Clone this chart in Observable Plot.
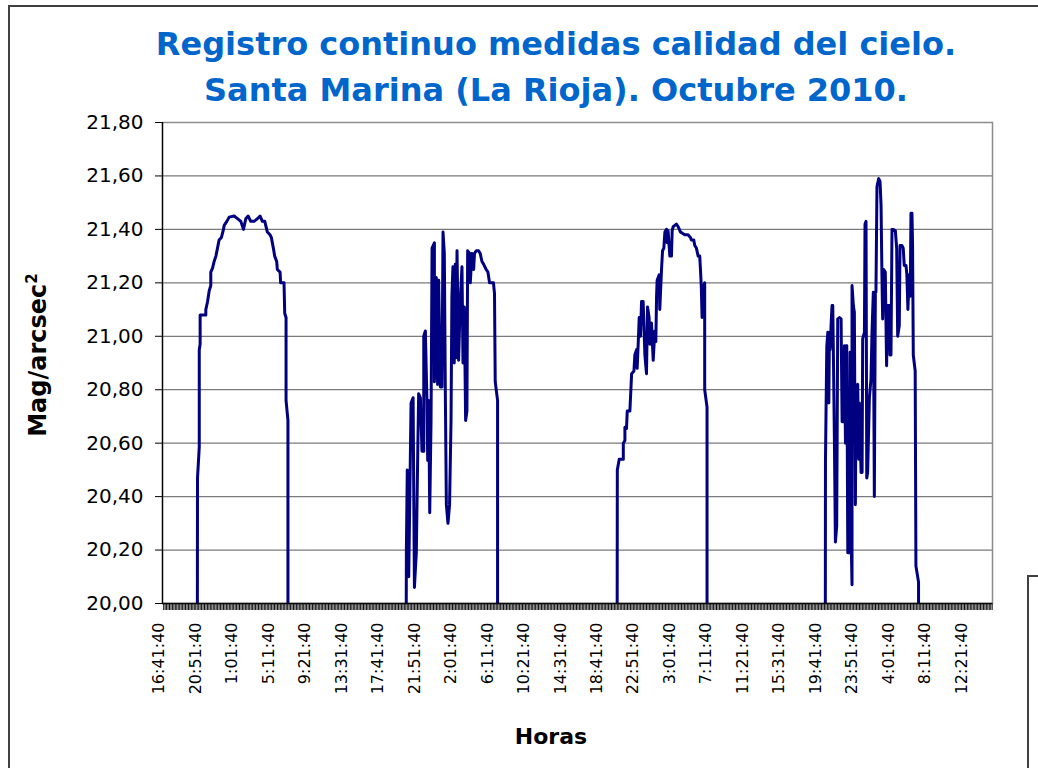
<!DOCTYPE html>
<html>
<head>
<meta charset="utf-8">
<script src="https://cdn.jsdelivr.net/npm/d3@7"></script>
<script src="https://cdn.jsdelivr.net/npm/@observablehq/plot@0.6"></script>
<style>
  html, body { margin: 0; padding: 0; background: #fff; }
  #page { position: relative; width: 1038px; height: 768px; overflow: hidden; background: #fff; font-family: "DejaVu Sans", sans-serif; }
  #chart { position: absolute; left: 0; top: 0; }
  .title { position: absolute; left: 0; top: 21px; width: 1112px; text-align: center; color: #0066CC; font-weight: bold; font-size: 32px; line-height: 46px; white-space: nowrap; }
  .ytitle { position: absolute; left: 37px; top: 355px; transform: translate(-50%, -50%) rotate(-90deg); font-weight: bold; font-size: 24px; white-space: nowrap; color: #000; }
  .ytitle sup { font-size: 15px; }
  .xtitle { position: absolute; left: 551px; top: 724px; transform: translateX(-50%); font-weight: bold; font-size: 22px; white-space: nowrap; color: #000; }
  .bline { position: absolute; background: #404040; }
</style>
</head>
<body>
<div id="page">
  <div id="chart"></div>
  <div class="bline" style="left:8px; top:5px; width:1.5px; height:763px;"></div>
  <div class="bline" style="left:8px; top:5px; width:1030px; height:1.5px;"></div>
  <div class="bline" style="left:1027px; top:575px; width:1.5px; height:193px;"></div>
  <div class="bline" style="left:1027px; top:575px; width:11px; height:1.5px;"></div>
  <div class="title">Registro continuo medidas calidad del cielo.<br>Santa Marina (La Rioja). Octubre 2010.</div>
  <div class="ytitle">Mag/arcsec<sup>2</sup></div>
  <div class="xtitle">Horas</div>
</div>
<script>
// Minutes elapsed since the first labelled record (16:41:40), value in mag/arcsec²
const night1 = [[261,20.0],[262,20.47],[274,20.585],[274,20.95],[280,20.97],[280,21.08],[319,21.08],[319,21.10],[331,21.13],[342,21.17],[353,21.19],[353,21.24],[365,21.255],[376,21.28],[388,21.30],[399,21.33],[410,21.36],[426,21.37],[440,21.40],[445,21.415],[463,21.43],[479,21.446],[513,21.45],[536,21.44],[559,21.43],[577,21.40],[593,21.44],[609,21.45],[627,21.43],[650,21.43],[673,21.44],[691,21.45],[707,21.43],[723,21.43],[741,21.39],[759,21.38],[768,21.37],[782,21.33],[791,21.30],[805,21.28],[809,21.25],[828,21.24],[832,21.20],[855,21.20],[860,21.085],[869,21.07],[869,20.76],[882,20.685],[882,20.0]];
const night2 = [[1693,20.0],[1694,20.20],[1700,20.50],[1710,20.10],[1726,20.75],[1740,20.77],[1749,20.06],[1762,20.19],[1772,20.57],[1778,20.785],[1790,20.77],[1801,20.57],[1813,20.57],[1813,21.00],[1824,21.02],[1835,20.76],[1840,20.535],[1847,20.76],[1854,20.34],[1863,20.685],[1870,21.33],[1886,21.35],[1886,20.83],[1899,21.22],[1908,20.82],[1915,21.21],[1927,20.81],[1938,20.81],[1945,21.39],[1954,21.31],[1961,20.785],[1968,20.37],[1979,20.30],[1990,20.37],[2000,20.685],[2006,21.15],[2013,21.26],[2022,20.90],[2029,21.27],[2036,20.92],[2041,21.32],[2052,20.91],[2063,21.13],[2075,21.26],[2082,20.90],[2091,21.11],[2100,20.685],[2109,20.72],[2114,21.32],[2127,21.31],[2132,21.20],[2143,21.31],[2155,21.25],[2161,21.31],[2173,21.32],[2189,21.32],[2200,21.31],[2212,21.28],[2223,21.27],[2241,21.25],[2253,21.24],[2264,21.20],[2280,21.20],[2291,21.20],[2298,21.16],[2303,20.83],[2319,20.76],[2319,20.0]];
const night3 = [[3139,20.0],[3140,20.50],[3153,20.54],[3181,20.54],[3181,20.60],[3192,20.61],[3192,20.66],[3203,20.655],[3208,20.72],[3226,20.72],[3238,20.86],[3254,20.87],[3260,20.93],[3272,20.95],[3276,20.88],[3283,20.97],[3290,21.07],[3299,21.00],[3306,21.13],[3317,21.13],[3329,20.93],[3340,20.86],[3347,21.11],[3358,21.07],[3363,20.97],[3374,21.05],[3386,20.91],[3397,21.02],[3404,20.98],[3409,21.15],[3413,21.21],[3427,21.23],[3431,21.10],[3443,21.25],[3450,21.32],[3459,21.33],[3466,21.39],[3477,21.40],[3482,21.35],[3488,21.395],[3500,21.30],[3511,21.30],[3516,21.395],[3523,21.41],[3534,21.415],[3545,21.42],[3557,21.41],[3573,21.39],[3602,21.38],[3625,21.38],[3641,21.37],[3648,21.36],[3664,21.36],[3671,21.34],[3682,21.33],[3694,21.30],[3705,21.30],[3710,21.25],[3716,21.18],[3721,21.07],[3728,21.18],[3739,21.20],[3739,20.80],[3755,20.735],[3755,20.0]];
const night4 = [[4566,20.0],[4567,20.54],[4576,20.96],[4583,21.015],[4590,20.75],[4594,21.015],[4599,20.95],[4606,21.05],[4612,21.115],[4617,21.115],[4622,20.90],[4628,20.62],[4635,20.23],[4644,20.29],[4651,21.065],[4663,21.07],[4674,21.065],[4681,20.68],[4690,20.68],[4697,20.965],[4704,20.60],[4708,20.965],[4713,20.965],[4720,20.19],[4731,20.19],[4736,20.94],[4742,20.27],[4749,20.07],[4749,21.19],[4758,21.115],[4765,21.09],[4772,20.37],[4777,20.80],[4788,20.82],[4795,20.54],[4799,20.75],[4811,20.49],[4818,20.49],[4822,20.99],[4834,21.015],[4838,21.42],[4845,21.43],[4850,20.47],[4856,20.49],[4868,20.77],[4879,20.84],[4886,21.015],[4895,21.165],[4902,20.40],[4909,21.165],[4913,21.165],[4920,21.56],[4932,21.59],[4941,21.58],[4948,21.49],[4954,21.23],[4959,21.065],[4966,21.25],[4977,21.24],[4986,20.89],[4993,21.115],[5005,21.115],[5009,20.93],[5016,20.93],[5023,21.40],[5032,21.40],[5046,21.395],[5055,21.33],[5062,21.00],[5073,21.04],[5078,21.34],[5091,21.34],[5100,21.33],[5107,21.265],[5119,21.265],[5125,21.23],[5132,21.10],[5141,21.23],[5148,21.15],[5153,21.46],[5160,21.46],[5164,21.34],[5169,20.93],[5182,20.87],[5187,20.14],[5205,20.08],[5205,20.0]];

const xTickLabels = ["16:41:40","20:51:40","1:01:40","5:11:40","9:21:40","13:31:40","17:41:40","21:51:40","2:01:40","6:11:40","10:21:40","14:31:40","18:41:40","22:51:40","3:01:40","7:11:40","11:21:40","15:31:40","19:41:40","23:51:40","4:01:40","8:11:40","12:21:40"];
const xTickStep = 250;            // minutes between labelled categories
const xMinorStep = 10;            // minutes between minor category ticks
const xDomain = [22, 5712];       // minutes covered by the category axis
const yTicks = [20.0, 20.2, 20.4, 20.6, 20.8, 21.0, 21.2, 21.4, 21.6, 21.8];

const rows = [night1, night2, night3, night4].flatMap((n, k) => n.map(([t, v]) => ({t, v, night: k})));
const labelTicks = xTickLabels.map((_, i) => i * xTickStep);
const minorTicks = d3.range(30, xDomain[1], xMinorStep);
const fmt = d => d.toFixed(2).replace(".", ",");

const chart = Plot.plot({
  width: 1038,
  height: 768,
  marginLeft: 162,
  marginRight: 46,
  marginTop: 122,
  marginBottom: 165,
  style: {fontFamily: "DejaVu Sans, sans-serif", background: "transparent", color: "#000"},
  x: {domain: xDomain, axis: null},
  y: {domain: [20, 21.8], axis: null},
  marks: [
    Plot.gridY(yTicks, {stroke: "#7a7a7a", strokeOpacity: 1, strokeWidth: 1.2}),
    Plot.frame({stroke: "#8c8c8c", strokeWidth: 1.5}),
    Plot.line(rows, {x: "t", y: "v", z: "night", stroke: "#000080", strokeWidth: 3, curve: "linear", clip: true}),
    Plot.ruleX([xDomain[0]], {stroke: "#000", strokeWidth: 1.3}),
    Plot.ruleY([20], {stroke: "#000", strokeWidth: 1.3}),
    Plot.axisY({ticks: yTicks, tickSize: 7, tickPadding: 12, tickFormat: fmt, fontSize: 20, label: null, stroke: "#000"}),
    Plot.axisX({ticks: minorTicks, tickSize: 7, tickFormat: () => "", label: null, stroke: "#111", strokeWidth: 1}),
    Plot.axisX({ticks: labelTicks, tickSize: 0, tickPadding: 19, tickRotate: -90, fontSize: 16, label: null,
      tickFormat: (d) => xTickLabels[Math.round(d / xTickStep)]})
  ]
});
document.getElementById("chart").appendChild(chart);
</script>
</body>
</html>
